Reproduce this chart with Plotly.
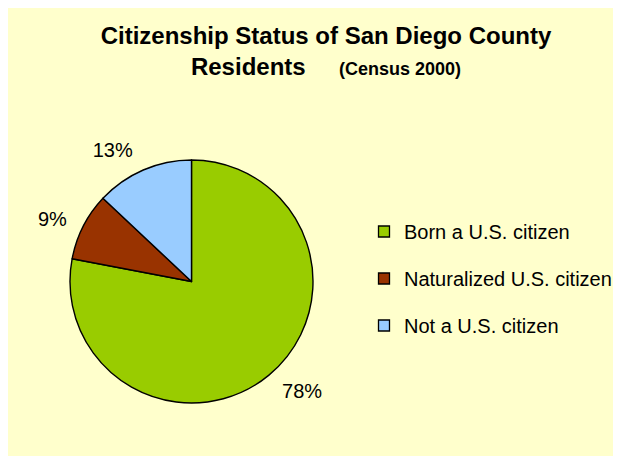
import plotly.graph_objects as go

# data
labels = ["Born a U.S. citizen", "Naturalized U.S. citizen", "Not a U.S. citizen"]
values = [78, 9, 13]
colors = ["#99CC00", "#993300", "#99CCFF"]

# the page body adds 8px on the left/top, so the figure fills the rest
W, H = 613, 448
cx, cy, r = 183.5, 273.5, 121.5   # pie centre / radius in figure px
label_gap = 12                    # percent labels sit a bit further out

fig = go.Figure()

# the visible pie
fig.add_trace(go.Pie(
    labels=labels,
    values=values,
    sort=False,
    direction="clockwise",
    rotation=0,
    marker=dict(colors=colors, line=dict(color="#000000", width=1.4)),
    textposition="none",
    domain=dict(x=[(cx - r) / W, (cx + r) / W], y=[1 - (cy + r) / H, 1 - (cy - r) / H]),
    showlegend=False,
    hoverinfo="label+percent",
))

# transparent copy, slightly larger, only carries the outside percent labels
r2 = r + label_gap
fig.add_trace(go.Pie(
    labels=labels,
    values=values,
    sort=False,
    direction="clockwise",
    rotation=0,
    marker=dict(colors=["rgba(0,0,0,0)"] * len(values), line=dict(width=0)),
    textposition="outside",
    texttemplate="%{percent:.0%}",
    textfont=dict(family="Liberation Sans, Arial", size=20, color="#000000"),
    domain=dict(x=[(cx - r2) / W, (cx + r2) / W], y=[1 - (cy + r2) / H, 1 - (cy - r2) / H]),
    showlegend=False,
    hoverinfo="skip",
))

# legend entries (dummy traces so the rows can be spaced like the original)
for lab, col in zip(labels, colors):
    fig.add_trace(go.Scatter(
        x=[None], y=[None], mode="markers", name=lab, legendgroup=lab,
        marker=dict(symbol="square", size=11, color=col,
                    line=dict(color="#000000", width=1.3)),
    ))

fig.update_layout(
    width=W, height=H,
    margin=dict(l=0, r=0, t=0, b=0),
    paper_bgcolor="#FFFFCC",
    plot_bgcolor="rgba(0,0,0,0)",
    xaxis=dict(visible=False),
    yaxis=dict(visible=False),
    font=dict(family="Liberation Sans, Arial", color="#000000"),
    title=dict(
        text="<b>Citizenship Status of San Diego County<br>Residents\u00a0\u00a0\u00a0\u00a0\u00a0"
             "<span style='font-size:18px'>(Census 2000)</span></b>",
        font=dict(size=24, color="#000000"),
        x=318 / W, xanchor="center",
        y=1 - 36 / H, yanchor="top",
    ),
    legend=dict(
        x=356 / W, xanchor="left",
        y=1 - 204 / H, yanchor="top",
        font=dict(size=20, color="#000000"),
        tracegroupgap=18,
        bgcolor="rgba(0,0,0,0)",
        itemwidth=30,
    ),
)

# no scrollbars, so the yellow panel runs to the window edges
fig.write_html("out.html", post_script="document.body.style.overflow='hidden';")
